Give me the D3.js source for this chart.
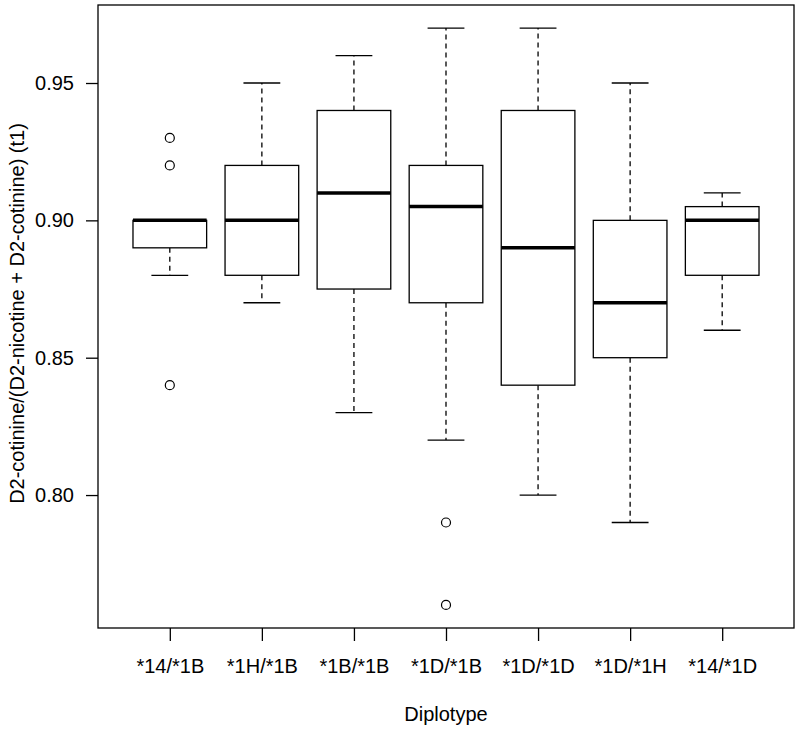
<!DOCTYPE html>
<html>
<head>
<meta charset="utf-8">
<script src="https://cdn.jsdelivr.net/npm/d3@7"></script>
<style>
  body { margin: 0; background: #fff; }
  text { font-family: "Liberation Sans", Arial, sans-serif; fill: #000; }
</style>
</head>
<body>
<div id="chart"></div>
<script>
// box plot stats
var diplotypes = ["*14/*1B", "*1H/*1B", "*1B/*1B", "*1D/*1B", "*1D/*1D", "*1D/*1H", "*14/*1D"];
var whiskerLow  = [0.88, 0.87, 0.83, 0.82, 0.80, 0.79, 0.86];
var q1          = [0.89, 0.88, 0.875, 0.87, 0.84, 0.85, 0.88];
var medians     = [0.90, 0.90, 0.91, 0.905, 0.89, 0.87, 0.90];
var q3          = [0.90, 0.92, 0.94, 0.92, 0.94, 0.90, 0.905];
var whiskerHigh = [0.90, 0.95, 0.96, 0.97, 0.97, 0.95, 0.91];
var outliers    = [[0.93, 0.92, 0.84], [], [], [0.79, 0.76], [], [], []];
var yTicks = [0.80, 0.85, 0.90, 0.95];

var W = 800, H = 731;
var margin = { top: 5, right: 6, bottom: 103, left: 98 }
    , width = W - margin.left - margin.right
    , height = H - margin.top - margin.bottom;

var svg = d3.select("#chart").append("svg")
    .attr("width", W)
    .attr("height", H)
    .append("g")
    .attr("transform", "translate(" + margin.left + "," + margin.top + ")");

// R style padding: 4% on each side
var x = d3.scaleLinear().domain([0.22, 7.78]).range([0, width]);
var y = d3.scaleLinear().domain([0.7516, 0.9784]).range([height, 0]);

var boxHalf = 0.4, capHalf = 0.2;

var data = diplotypes.map(function (d, i) {
    return { name: d, i: i + 1, lo: whiskerLow[i], q1: q1[i], med: medians[i],
             q3: q3[i], hi: whiskerHigh[i], out: outliers[i] };
});

var g = svg.selectAll(".box").data(data).enter().append("g").attr("class", "box");

// whiskers (dashed)
g.append("line")
    .attr("x1", function (d) { return x(d.i); })
    .attr("x2", function (d) { return x(d.i); })
    .attr("y1", function (d) { return y(d.q3); })
    .attr("y2", function (d) { return y(d.hi); })
    .attr("stroke", "#000").attr("stroke-width", 1.3).attr("stroke-dasharray", "5,4");
g.append("line")
    .attr("x1", function (d) { return x(d.i); })
    .attr("x2", function (d) { return x(d.i); })
    .attr("y1", function (d) { return y(d.q1); })
    .attr("y2", function (d) { return y(d.lo); })
    .attr("stroke", "#000").attr("stroke-width", 1.3).attr("stroke-dasharray", "5,4");

// staples
["lo", "hi"].forEach(function (k) {
    g.append("line")
        .attr("x1", function (d) { return x(d.i - capHalf); })
        .attr("x2", function (d) { return x(d.i + capHalf); })
        .attr("y1", function (d) { return y(d[k]); })
        .attr("y2", function (d) { return y(d[k]); })
        .attr("stroke", "#000").attr("stroke-width", 1.3);
});

// boxes
g.append("rect")
    .attr("x", function (d) { return x(d.i - boxHalf); })
    .attr("width", function (d) { return x(d.i + boxHalf) - x(d.i - boxHalf); })
    .attr("y", function (d) { return y(d.q3); })
    .attr("height", function (d) { return y(d.q1) - y(d.q3); })
    .attr("fill", "#fff").attr("stroke", "#000").attr("stroke-width", 1.3);

// medians
g.append("line")
    .attr("x1", function (d) { return x(d.i - boxHalf); })
    .attr("x2", function (d) { return x(d.i + boxHalf); })
    .attr("y1", function (d) { return y(d.med); })
    .attr("y2", function (d) { return y(d.med); })
    .attr("stroke", "#000").attr("stroke-width", 3.5);

// outliers
g.selectAll("circle")
    .data(function (d) { return d.out.map(function (v) { return { i: d.i, v: v }; }); })
    .enter().append("circle")
    .attr("cx", function (d) { return x(d.i); })
    .attr("cy", function (d) { return y(d.v); })
    .attr("r", 4.5)
    .attr("fill", "none").attr("stroke", "#000").attr("stroke-width", 1.2);

// frame
svg.append("rect")
    .attr("width", width).attr("height", height)
    .attr("fill", "none").attr("stroke", "#000").attr("stroke-width", 1.3);

// y axis
var yAxis = svg.append("g")
    .call(d3.axisLeft(y).tickValues(yTicks).tickSize(12).tickPadding(12).tickFormat(d3.format(".2f")));
yAxis.select(".domain").remove();
yAxis.selectAll("line").attr("stroke-width", 1.3);
yAxis.selectAll("text").attr("font-size", 20).attr("font-family", "Liberation Sans, Arial, sans-serif");

// x axis
var xAxis = svg.append("g")
    .attr("transform", "translate(0," + height + ")")
    .call(d3.axisBottom(x).tickValues(data.map(function (d) { return d.i; })).tickSize(13).tickPadding(18)
        .tickFormat(function (d) { return diplotypes[d - 1]; }));
xAxis.select(".domain").remove();
xAxis.selectAll("line").attr("stroke-width", 1.3);
xAxis.selectAll("text").attr("font-size", 20).attr("font-family", "Liberation Sans, Arial, sans-serif");

// axis titles
svg.append("text")
    .attr("x", width / 2).attr("y", 721 - margin.top)
    .attr("text-anchor", "middle").attr("font-size", 20)
    .text("Diplotype");

svg.append("text")
    .attr("transform", "translate(" + (24 - margin.left) + "," + (height / 2 - 3) + ") rotate(-90)")
    .attr("text-anchor", "middle").attr("font-size", 20)
    .text("D2-cotinine/(D2-nicotine + D2-cotinine) (t1)");
</script>
</body>
</html>
